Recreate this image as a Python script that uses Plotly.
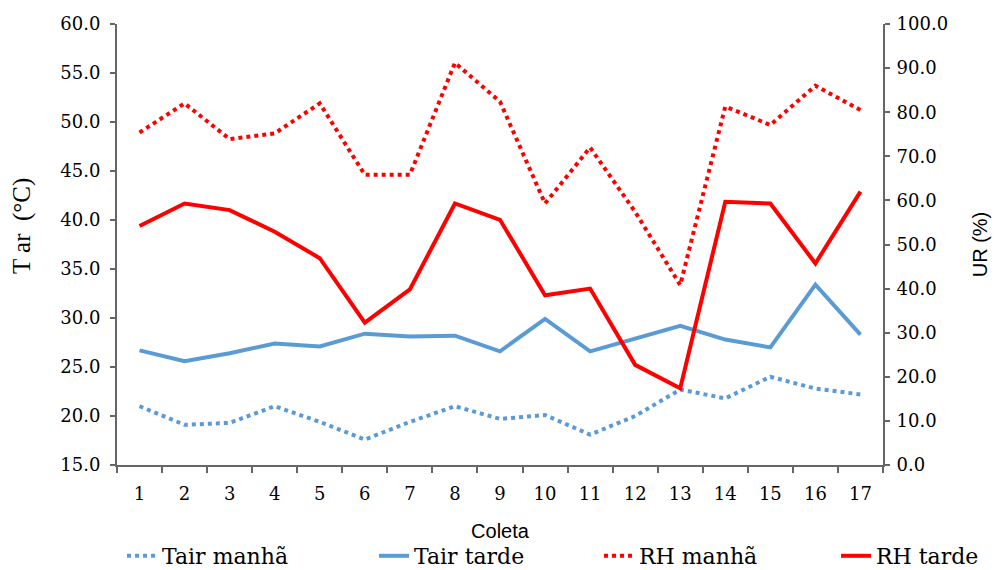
import plotly.graph_objects as go

coleta = list(range(1, 18))
tair_manha = [21.0, 19.1, 19.3, 21.0, 19.4, 17.6, 19.4, 21.0, 19.7, 20.1, 18.1, 20.0, 22.7, 21.8, 24.0, 22.8, 22.2]
tair_tarde = [26.7, 25.6, 26.4, 27.4, 27.1, 28.4, 28.1, 28.2, 26.6, 29.9, 26.6, 27.9, 29.2, 27.8, 27.0, 33.4, 28.3]
rh_manha = [75.4, 82.0, 73.9, 75.2, 82.0, 65.8, 65.8, 91.2, 82.4, 59.3, 72.0, 57.4, 40.8, 81.3, 77.1, 86.0, 80.5]
rh_tarde = [54.2, 59.3, 57.8, 52.9, 46.9, 32.3, 39.8, 59.3, 55.6, 38.5, 40.0, 22.7, 17.4, 59.7, 59.3, 45.7, 62.0]

left_ticks = [15 + 5 * i for i in range(10)]
right_ticks = [10 * i for i in range(11)]

BLUE = "#5B9BD5"
RED = "#FF0000"
AXIS = "#666666"
SERIF_W = "DejaVu Serif, serif"
SERIF = "Liberation Serif, Times New Roman, serif"
SANS = "Liberation Sans, Arial, sans-serif"

PLOT_L, PLOT_R, PLOT_T, PLOT_B = 117, 883, 24, 465
W, H = 994, 570


def px_x(px):
    return (px - PLOT_L) / (PLOT_R - PLOT_L)


def px_y(py):
    return 1 - (py - PLOT_T) / (PLOT_B - PLOT_T)


fig = go.Figure()
fig.add_trace(go.Scatter(x=coleta, y=tair_manha, name="Tair manhã", mode="lines",
                         line=dict(color=BLUE, width=4, dash="dot"), yaxis="y", legend="legend"))
fig.add_trace(go.Scatter(x=coleta, y=tair_tarde, name="Tair tarde", mode="lines",
                         line=dict(color=BLUE, width=4), yaxis="y", legend="legend2"))
fig.add_trace(go.Scatter(x=coleta, y=rh_manha, name="RH manhã", mode="lines",
                         line=dict(color=RED, width=4, dash="dot"), yaxis="y2", legend="legend3"))
fig.add_trace(go.Scatter(x=coleta, y=rh_tarde, name="RH tarde", mode="lines",
                         line=dict(color=RED, width=4), yaxis="y2", legend="legend4"))

legend_font = dict(family=SERIF_W, size=22, color="#000")
leg_y = px_y(556)
legend_common = dict(orientation="h", y=leg_y, xanchor="left", yanchor="middle",
                     font=legend_font, itemwidth=30, bgcolor="rgba(0,0,0,0)", borderwidth=0)

fig.update_layout(
    width=W, height=H,
    margin=dict(l=PLOT_L, r=W - PLOT_R, t=PLOT_T, b=H - PLOT_B, autoexpand=False),
    plot_bgcolor="white", paper_bgcolor="white",
    showlegend=True,
    legend=dict(x=px_x(122), **legend_common),
    legend2=dict(x=px_x(374), **legend_common),
    legend3=dict(x=px_x(599), **legend_common),
    legend4=dict(x=px_x(836), **legend_common),
    xaxis=dict(range=[0.5, 17.5], tickmode="array", tickvals=coleta,
               ticktext=[str(c) for c in coleta], ticks="", ticklabelstandoff=11,
               showline=True, linecolor=AXIS, linewidth=2, showgrid=False, zeroline=False,
               minor=dict(tick0=0.5, dtick=1, ticks="outside", ticklen=6, tickcolor=AXIS, tickwidth=1.5),
               tickfont=dict(family=SERIF_W, size=18, color="#000"),
               title=dict(text="Coleta", font=dict(family=SANS, size=20, color="#000"), standoff=21)),
    yaxis=dict(range=[15, 60], tickmode="array", tickvals=left_ticks,
               ticktext=[f"{v:.1f}" for v in left_ticks],
               ticks="outside", ticklen=5, tickcolor=AXIS, tickwidth=1.5, ticklabelstandoff=6,
               showline=True, linecolor=AXIS, linewidth=2, showgrid=False, zeroline=False,
               tickfont=dict(family=SERIF_W, size=18, color="#000")),
    yaxis2=dict(range=[0, 100], overlaying="y", side="right", tickmode="array",
                tickvals=right_ticks, ticktext=[f"{v:.1f}" for v in right_ticks],
                ticks="outside", ticklen=5, tickcolor=AXIS, tickwidth=1.5, ticklabelstandoff=3,
                showline=True, linecolor=AXIS, linewidth=2, showgrid=False, zeroline=False,
                tickfont=dict(family=SERIF_W, size=18, color="#000"),
                title=dict(text="UR (%)", font=dict(family=SANS, size=20, color="#000"), standoff=26)),
    annotations=[dict(text="T ar\u00a0 (°C)", xref="paper", yref="paper",
                      x=px_x(22), y=px_y(226), xanchor="center", yanchor="middle",
                      textangle=-90, showarrow=False,
                      font=dict(family=SERIF, size=25, color="#000"))],
)

fig.write_html("out.html", config={"displayModeBar": False},
               post_script="document.body.style.margin='0';document.body.style.padding='0';")
